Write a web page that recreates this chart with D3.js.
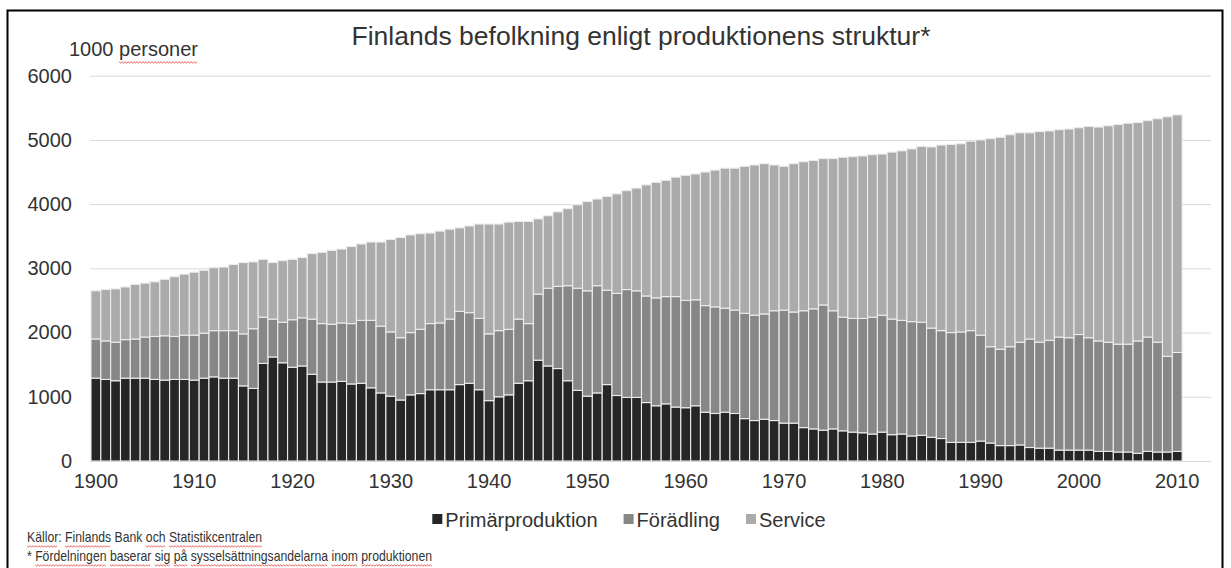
<!DOCTYPE html>
<html>
<head>
<meta charset="utf-8">
<script src="https://cdn.jsdelivr.net/npm/d3@7"></script>
<style>
  body { margin: 0; background: #fff; }
  text { font-family: "Liberation Sans", Arial, sans-serif; fill: #333; }
</style>
</head>
<body>
<div class="canvas"></div>
<script>
// data, 1000 persons
const years = d3.range(1900, 2011);
const primar = [
  1290,1270,1250,1290,1290,1290,1270,1260,1270,1270,
  1260,1290,1310,1290,1290,1170,1130,1520,1620,1530,
  1460,1480,1350,1230,1230,1240,1200,1210,1140,1060,
  1010,950,1030,1050,1110,1110,1110,1190,1210,1110,
  940,1000,1030,1210,1250,1570,1480,1440,1250,1100,
  1010,1060,1190,1020,990,990,910,860,890,840,
  830,860,760,740,760,740,660,630,650,630,
  590,590,520,500,480,500,470,450,440,420,
  450,410,420,390,400,370,350,290,290,290,
  310,280,240,240,250,210,200,200,170,170,
  170,170,150,150,140,140,120,150,140,140,150
];
const foradling = [
  610,600,600,600,610,640,670,690,670,690,
  700,700,720,740,740,810,930,720,590,630,
  740,750,860,910,900,910,940,980,1050,1040,
  1000,970,970,1000,1030,1040,1100,1140,1100,1110,
  1040,1030,1020,1000,890,1030,1210,1280,1480,1590,
  1640,1670,1470,1590,1680,1660,1660,1680,1670,1720,
  1670,1650,1660,1660,1620,1610,1640,1640,1640,1710,
  1760,1730,1820,1870,1950,1840,1770,1770,1780,1820,
  1820,1800,1770,1780,1760,1700,1680,1710,1720,1740,
  1650,1500,1500,1540,1600,1690,1650,1680,1760,1750,
  1800,1750,1720,1700,1680,1680,1750,1780,1710,1490,1540
];
const service = [
  750,800,830,820,850,840,850,880,930,950,
  980,980,980,990,1030,1110,1040,900,880,960,
  940,940,1020,1110,1150,1150,1200,1190,1220,1310,
  1440,1560,1520,1490,1410,1430,1400,1300,1350,1470,
  1710,1660,1670,1520,1590,1170,1130,1160,1200,1300,
  1390,1350,1460,1550,1540,1600,1730,1800,1810,1860,
  1950,1960,2080,2130,2180,2210,2290,2340,2340,2270,
  2240,2310,2320,2310,2280,2370,2490,2520,2530,2530,
  2510,2600,2640,2690,2740,2820,2890,2930,2930,2950,
  3040,3240,3300,3300,3260,3210,3280,3260,3230,3250,
  3220,3290,3330,3370,3420,3440,3400,3370,3480,3730,3700
];
const seriesNames = ['Primärproduktion', 'Förädling', 'Service'];
const yTicks = [0, 1000, 2000, 3000, 4000, 5000, 6000];
const xTickYears = [1900, 1910, 1920, 1930, 1940, 1950, 1960, 1970, 1980, 1990, 2000, 2010];

const dims = { width: 1231, height: 568 };
const plot = { left: 91, right: 91 + 111 * 9.83, top: 75.7, bottom: 461, gridEnd: 1211 };
const colors = ['#262626', '#878787', '#ababab'];

const rows = years.map((y, i) => ({
  year: y,
  'Primärproduktion': primar[i],
  'Förädling': foradling[i],
  'Service': service[i]
}));

const svg = d3.select('.canvas').append('svg')
  .attr('width', dims.width)
  .attr('height', dims.height);

// frame round the whole chart
svg.append('rect')
  .attr('x', 7.5).attr('y', 10.5)
  .attr('width', 1215).attr('height', 570)
  .attr('fill', 'none')
  .attr('stroke', '#000')
  .attr('stroke-width', 2);

const x = d3.scaleBand()
  .domain(years)
  .range([plot.left, plot.right])
  .padding(0);

const y = d3.scaleLinear()
  .domain([0, 6000])
  .range([plot.bottom, plot.top]);

// gridlines + y labels
const yAxis = svg.append('g')
  .attr('transform', `translate(${plot.left - 1},0)`)
  .call(d3.axisLeft(y).tickValues(yTicks).tickFormat(d3.format('d'))
    .tickSize(-(plot.gridEnd - plot.left + 1)).tickPadding(18));
yAxis.select('.domain').remove();
yAxis.selectAll('line').attr('stroke', '#d9d9d9');
yAxis.selectAll('text')
  .attr('font-size', 20)
  .attr('fill', '#333')
  .attr('font-family', '"Liberation Sans", Arial, sans-serif');

const stack = d3.stack().keys(seriesNames);
const layers = stack(rows);

svg.append('g').selectAll('g')
  .data(layers)
  .join('g')
    .attr('fill', (d, i) => colors[i])
  .selectAll('rect')
  .data(d => d)
  .join('rect')
    .attr('x', d => x(d.data.year))
    .attr('y', d => y(d[1]))
    .attr('width', x.bandwidth())
    .attr('height', d => y(d[0]) - y(d[1]))
    .attr('stroke', '#ececec')
    .attr('stroke-width', 1.1);

// x axis
const xAxis = svg.append('g')
  .attr('transform', `translate(0,${plot.bottom})`)
  .call(d3.axisBottom(x).tickValues(xTickYears).tickSize(0).tickPadding(13));
xAxis.select('.domain').remove();
xAxis.selectAll('text')
  .attr('font-size', 20)
  .attr('fill', '#333')
  .attr('font-family', '"Liberation Sans", Arial, sans-serif');
svg.append('line')
  .attr('x1', plot.left - 1).attr('x2', plot.gridEnd)
  .attr('y1', plot.bottom + 0.5).attr('y2', plot.bottom + 0.5)
  .attr('stroke', '#d9d9d9');

// title and unit
svg.append('text')
  .attr('x', 641).attr('y', 45)
  .attr('text-anchor', 'middle')
  .attr('font-size', 26.5)
  .text('Finlands befolkning enligt produktionens struktur*');

const unit = svg.append('text')
  .attr('x', 69).attr('y', 56)
  .attr('font-size', 20)
  .text('1000 personer');

// legend
const legend = svg.append('g');
let lx = 0;
seriesNames.forEach((name, i) => {
  const item = legend.append('g').attr('transform', `translate(${lx},0)`);
  item.append('rect')
    .attr('x', 0).attr('y', -13)
    .attr('width', 10).attr('height', 10)
    .attr('fill', colors[i]);
  const t = item.append('text')
    .attr('x', 13).attr('y', 0)
    .attr('font-size', 20)
    .text(name);
  lx += 13 + t.node().getComputedTextLength() + 26;
});
legend.attr('transform', `translate(${629 - (lx - 26) / 2},527)`);

// sources
const note1 = svg.append('text')
  .attr('x', 27).attr('y', 542)
  .attr('font-family', 'Lato, "Open Sans", sans-serif')
  .attr('font-size', 15)
  .attr('textLength', 235)
  .attr('lengthAdjust', 'spacingAndGlyphs')
  .text('Källor: Finlands Bank och Statistikcentralen');
const note2 = svg.append('text')
  .attr('x', 27).attr('y', 561)
  .attr('font-family', 'Lato, "Open Sans", sans-serif')
  .attr('font-size', 15)
  .attr('textLength', 405)
  .attr('lengthAdjust', 'spacingAndGlyphs')
  .text('* Fördelningen baserar sig på sysselsättningsandelarna inom produktionen');

// red spell-check squiggles under flagged words
const squiggle = (textSel, words, dy) => {
  const node = textSel.node();
  const s = node.textContent;
  words.forEach(w => {
    const start = s.indexOf(w);
    if (start < 0) return;
    const p0 = node.getStartPositionOfChar(start).x;
    const p1 = node.getEndPositionOfChar(start + w.length - 1).x;
    const yb = +textSel.attr('y') + dy;
    const pts = [];
    for (let px = p0, k = 0; px <= p1; px += 1.5, k++) pts.push([px, yb + (k % 2 ? 1 : -0.2)]);
    svg.append('path')
      .attr('d', d3.line()(pts))
      .attr('fill', 'none')
      .attr('stroke', '#e53935')
      .attr('stroke-width', 0.8);
  });
};
squiggle(unit, ['personer'], 6);
squiggle(note1, ['Källor', 'Finlands', 'och', 'Statistikcentralen'], 4);
squiggle(note2, ['Fördelningen', 'baserar', 'sig', 'på', 'sysselsättningsandelarna', 'inom', 'produktionen'], 4);
</script>
</body>
</html>
